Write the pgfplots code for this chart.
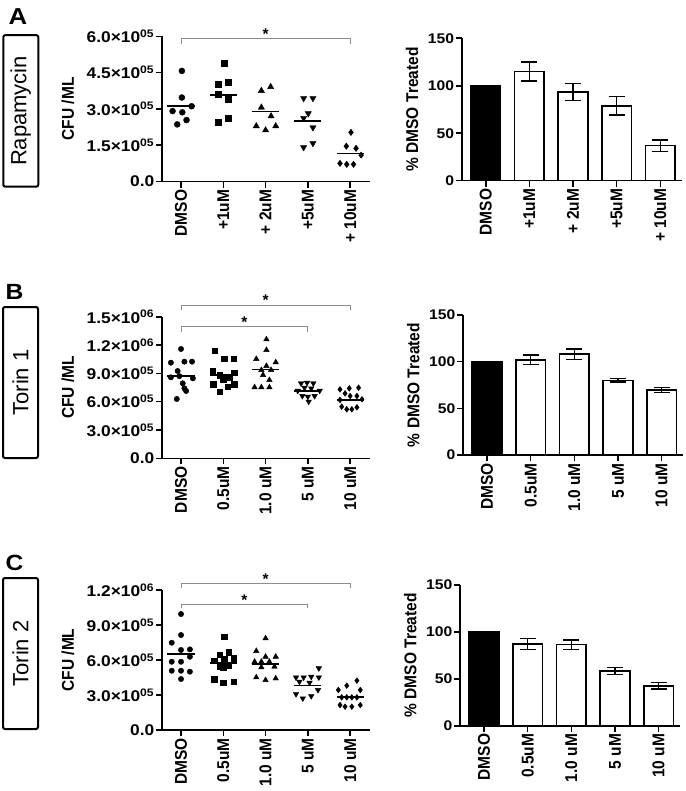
\documentclass[border=0pt]{standalone}
\usepackage{fontspec}
\setmainfont{Liberation Sans}
\usepackage{graphicx}
\usepackage{pgfplots}
\pgfplotsset{compat=1.18}
\newcommand{\lf}{\fontsize{15.5}{17}\selectfont\bfseries}
\newcommand{\bfs}{\fontsize{14}{16}\selectfont\bfseries}
\newcommand{\hs}[1]{\scalebox{1.12}[1]{#1}}
\newcommand{\vs}[1]{\scalebox{1}[1.1]{#1}}
\newcommand{\sci}[2]{\hs{#1×10\textsuperscript{#2}}}
\definecolor{brkcol}{HTML}{8C8C8C}
\pgfplotsset{
  base/.style={scale only axis, clip=false, axis lines=left,
    axis line style={-, line width=1.6pt}, tick style={line width=1.6pt, black},
    tick align=outside, major tick length=6pt, xtick={0,1,2,3,4},
    yticklabel style={font=\lf, inner sep=1.5pt},
    xticklabel style={rotate=90, anchor=east, font=\lf, inner sep=2pt}},
  scat/.style={base, width=208pt, xmin=-0.45, xmax=4.47, ymin=0,
    ylabel={\vs{CFU /ML}},
    ylabel style={at={(axis description cs:-0.452,0.5)}, anchor=center, font=\lf}},
  bars/.style={base, width=220pt, xmin=-0.55, xmax=4.49, ymin=0, ymax=150,
    ytick={0,50,100,150}, yticklabels={\hs{0},\hs{50},\hs{100},\hs{150}},
    yticklabel style={font=\bfs},
    ylabel={\vs{\% DMSO Treated}},
    ylabel style={at={(axis description cs:-0.226,0.5)}, anchor=center, font=\lf}},
  pts/.style={only marks, black, mark size=#1},
  meanl/.style={black, line width=1.6pt, mark=none},
  brkline/.style={brkcol, line width=0.9pt, mark=none},
  blackbar/.style={ybar, bar width=0.68, bar shift=0pt, fill=black, draw=black, line width=1.6pt},
  whitebar/.style={ybar, bar width=0.68, bar shift=0pt, fill=white, draw=black, line width=1.6pt,
    error bars/.cd, y dir=both, y explicit,
    error bar style={line width=1.4pt, black},
    error mark options={rotate=90, line width=1.4pt, mark size=8pt, black}},
}
\begin{document}
\begin{tikzpicture}
\path[use as bounding box] (0pt,0pt) rectangle (685pt,-791pt);

% ---------- panel labels and boxes ----------
\node[font=\fontsize{23}{23}\selectfont\bfseries] at (18pt,-16.5pt) {\hs{A}};
\node[font=\fontsize{22}{22}\selectfont\bfseries] at (14.5pt,-291.5pt) {\hs{B}};
\node[font=\fontsize{22}{22}\selectfont\bfseries] at (14.5pt,-562.5pt) {\hs{C}};
\node[draw, line width=2pt, rounded corners=2pt, rotate=90, minimum width=151.5pt, minimum height=35pt,
  font=\fontsize{22}{22}\selectfont] at (20.8pt,-110.9pt) {Rapamycin};
\node[draw, line width=2pt, rounded corners=2pt, rotate=90, minimum width=151pt, minimum height=35pt,
  font=\fontsize{22}{22}\selectfont] at (20.5pt,-382.5pt) {Torin 1};
\node[draw, line width=2pt, rounded corners=2pt, rotate=90, minimum width=151pt, minimum height=35pt,
  font=\fontsize{22}{22}\selectfont] at (20.5pt,-653.5pt) {Torin 2};

% ---------- A scatter ----------
\begin{axis}[scat, at={(162pt,-181.5pt)}, anchor=south west, height=145.2pt, ymax=6,
  ytick={0,1.5,3,4.5,6},
  yticklabels={\hs{0.0},\sci{1.5}{05},\sci{3.0}{05},\sci{4.5}{05},\sci{6.0}{05}},
  xticklabels={\vs{DMSO},\vs{+1uM},\vs{+ 2uM},\vs{+5uM},\vs{+ 10uM}}]
\addplot[pts=3pt, mark=*] coordinates {(0.02,4.57) (0.02,3.47) (0.25,3.11) (-0.20,2.91) (0.03,2.86) (-0.09,2.36) (0.13,2.54)};
\addplot[pts=3pt, mark=square*] coordinates {(1.01,4.87) (0.89,4.02) (1.12,4.09) (0.89,3.61) (1.12,3.39) (0.89,2.43) (1.12,2.63)};
\addplot[pts=3.6pt, mark=triangle*] coordinates {(1.90,3.75) (2.12,3.91) (1.90,3.06) (2.13,2.70) (1.78,2.29) (2.00,2.12) (2.24,2.29)};
\addplot[pts=3.6pt, mark=triangle*, mark options={rotate=180}] coordinates {(2.90,3.44) (3.12,3.44) (3.01,2.81) (2.90,2.62) (3.12,2.23) (2.90,1.41) (3.12,1.58)};
\addplot[pts=3.2pt, mark=diamond*] coordinates {(4.02,2.03) (3.91,1.46) (4.14,1.37) (4.26,1.09) (3.76,0.75) (3.92,0.71) (4.08,0.71)};
\addplot[meanl] coordinates {(-0.32,3.12) (0.32,3.12)};
\addplot[meanl] coordinates {(0.68,3.58) (1.32,3.58)};
\addplot[meanl] coordinates {(1.68,2.89) (2.32,2.89)};
\addplot[meanl] coordinates {(2.68,2.50) (3.32,2.50)};
\addplot[meanl] coordinates {(3.68,1.16) (4.32,1.16)};
\addplot[brkline] coordinates {(0,5.67) (0,5.90) (4,5.90) (4,5.67)};
\node[anchor=base, font=\lf, yshift=-1pt] at (axis cs:2,5.90) {*};
\end{axis}

% ---------- A bars ----------
\begin{axis}[bars, at={(461.7pt,-180.7pt)}, anchor=south west, height=142.4pt,
  xticklabels={\vs{DMSO},\vs{+1uM},\vs{+ 2uM},\vs{+5uM},\vs{+ 10uM}}]
\addplot[blackbar] coordinates {(0,100)};
\addplot[whitebar] coordinates {(1,115) +- (0,10) (2,93.5) +- (0,9) (3,79) +- (0,10) (4,37) +- (0,6)};
\end{axis}

% ---------- B scatter ----------
\begin{axis}[scat, at={(162pt,-458.3pt)}, anchor=south west, height=141.6pt, ymax=15,
  ytick={0,3,6,9,12,15},
  yticklabels={\hs{0.0},\sci{3.0}{05},\sci{6.0}{05},\sci{9.0}{05},\sci{1.2}{06},\sci{1.5}{06}},
  xticklabels={\vs{DMSO},\vs{0.5uM},\vs{1.0 uM},\vs{5 uM},\vs{10 uM}}]
\addplot[pts=2.7pt, mark=*] coordinates {(0.00,11.58) (-0.24,10.13) (0.08,10.24) (0.26,10.24) (-0.08,9.25) (-0.24,8.58) (0.28,8.47) (-0.04,8.70) (0.04,7.94) (0.08,7.41) (0.12,7.13) (-0.10,6.28)};
\addplot[pts=2.7pt, mark=square*] coordinates {(0.79,11.37) (1.02,10.52) (1.24,10.52) (0.75,9.25) (0.91,8.82) (1.26,9.07) (1.00,8.37) (1.14,8.55) (0.76,7.84) (1.26,7.84) (1.10,7.58) (0.91,7.06)};
\addplot[pts=3.2pt, mark=triangle*] coordinates {(2.02,12.60) (2.02,11.47) (1.78,10.52) (2.24,10.17) (2.02,9.78) (2.13,9.35) (1.90,9.35) (1.94,8.82) (2.09,8.29) (1.74,7.52) (1.90,7.52) (2.09,7.52)};
\addplot[pts=3.2pt, mark=triangle*, mark options={rotate=180}] coordinates {(2.84,7.94) (2.98,8.00) (3.13,7.94) (2.92,7.48) (3.08,7.41) (3.28,7.16) (2.76,7.16) (2.87,6.60) (3.00,6.53) (3.16,6.60) (3.02,6.00)};
\addplot[pts=2.9pt, mark=diamond*] coordinates {(3.76,7.30) (3.98,7.41) (4.20,7.48) (3.88,6.88) (4.16,6.60) (3.76,6.18) (4.00,6.60) (4.28,6.25) (3.80,5.47) (3.92,5.19) (4.04,5.19) (4.16,5.40)};
\addplot[meanl] coordinates {(-0.32,8.75) (0.32,8.75)};
\addplot[meanl] coordinates {(0.68,8.85) (1.32,8.85)};
\addplot[meanl] coordinates {(1.68,9.41) (2.32,9.41)};
\addplot[meanl] coordinates {(2.68,7.16) (3.32,7.16)};
\addplot[meanl] coordinates {(3.68,6.20) (4.32,6.20)};
\addplot[brkline] coordinates {(0,15.70) (0,16.24) (4,16.24) (4,15.70)};
\addplot[brkline] coordinates {(0,13.40) (0,13.94) (3,13.94) (3,13.40)};
\node[anchor=base, font=\lf, yshift=-1pt] at (axis cs:2,16.24) {*};
\node[anchor=base, font=\lf, yshift=-1pt] at (axis cs:1.5,13.94) {*};
\end{axis}

% ---------- B bars ----------
\begin{axis}[bars, at={(463pt,-455pt)}, anchor=south west, height=140pt,
  xticklabels={\vs{DMSO},\vs{0.5uM},\vs{1.0 uM},\vs{5 uM},\vs{10 uM}}]
\addplot[blackbar] coordinates {(0,100)};
\addplot[whitebar] coordinates {(1,102) +- (0,5) (2,108) +- (0,5.5) (3,80) +- (0,1.8) (4,69.6) +- (0,2.9)};
\end{axis}

% ---------- C scatter ----------
\begin{axis}[scat, at={(162pt,-730pt)}, anchor=south west, height=140pt, ymax=12,
  ytick={0,3,6,9,12},
  yticklabels={\hs{0.0},\sci{3.0}{05},\sci{6.0}{05},\sci{9.0}{05},\sci{1.2}{06}},
  xticklabels={\vs{DMSO},\vs{0.5uM},\vs{1.0 uM},\vs{5 uM},\vs{10 uM}}]
\addplot[pts=2.7pt, mark=*] coordinates {(0.00,9.94) (0.00,8.14) (-0.22,7.48) (0.00,6.86) (0.21,6.91) (0.21,6.28) (-0.22,5.85) (0.00,5.85) (-0.22,5.08) (0.00,5.08) (0.21,5.00) (0.00,4.37)};
\addplot[pts=2.7pt, mark=square*] coordinates {(1.02,8.00) (0.91,6.43) (1.13,6.66) (0.78,5.94) (1.02,6.06) (1.24,6.14) (0.91,5.43) (1.00,5.37) (1.12,5.49) (0.78,4.34) (1.00,4.06) (1.24,4.14)};
\addplot[pts=3.2pt, mark=triangle*] coordinates {(2.00,7.86) (1.78,6.77) (2.00,6.28) (2.24,6.28) (1.74,5.85) (1.90,5.85) (2.09,5.85) (1.90,5.37) (2.21,5.43) (1.78,4.51) (2.00,4.28) (2.24,4.42)};
\addplot[pts=3.2pt, mark=triangle*, mark options={rotate=180}] coordinates {(3.26,5.29) (2.72,4.51) (2.90,4.51) (3.08,4.57) (3.26,4.51) (2.80,4.14) (3.04,4.06) (3.24,3.43) (2.72,3.08) (3.08,2.91) (2.88,2.71)};
\addplot[pts=2.9pt, mark=diamond*] coordinates {(4.16,4.23) (3.92,3.80) (3.72,3.43) (4.24,3.43) (3.80,2.80) (3.92,2.80) (4.04,2.80) (4.16,2.80) (3.76,2.14) (3.88,2.00) (4.04,2.00) (4.24,2.14)};
\addplot[meanl] coordinates {(-0.32,6.50) (0.32,6.50)};
\addplot[meanl] coordinates {(0.68,5.72) (1.32,5.72)};
\addplot[meanl] coordinates {(1.68,5.68) (2.32,5.68)};
\addplot[meanl] coordinates {(2.68,3.80) (3.32,3.80)};
\addplot[meanl] coordinates {(3.68,2.82) (4.32,2.82)};
\addplot[brkline] coordinates {(0,12.20) (0,12.57) (4,12.57) (4,12.20)};
\addplot[brkline] coordinates {(0,10.43) (0,10.77) (3,10.77) (3,10.43)};
\node[anchor=base, font=\lf, yshift=-1pt] at (axis cs:2,12.57) {*};
\node[anchor=base, font=\lf, yshift=-1pt] at (axis cs:1.5,10.77) {*};
\end{axis}

% ---------- C bars ----------
\begin{axis}[bars, at={(460pt,-725.7pt)}, anchor=south west, height=140.7pt,
  xticklabels={\vs{DMSO},\vs{0.5uM},\vs{1.0 uM},\vs{5 uM},\vs{10 uM}}]
\addplot[blackbar] coordinates {(0,100)};
\addplot[whitebar] coordinates {(1,87) +- (0,5.8) (2,86.5) +- (0,5) (3,58.5) +- (0,3.7) (4,42.5) +- (0,3.5)};
\end{axis}
\end{tikzpicture}
\end{document}
